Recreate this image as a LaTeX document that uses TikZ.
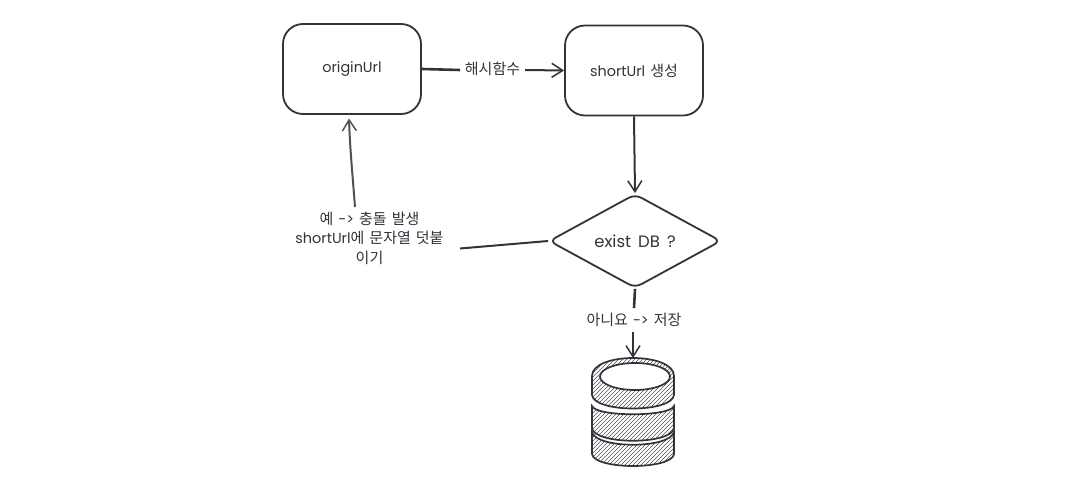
\documentclass[tikz,border=0pt]{standalone}
\usepackage{fontspec}
\setmainfont[WordSpace=1.5]{Noto Sans CJK KR}
\newfontfamily\latn[WordSpace=1.6]{Poppins}
\usetikzlibrary{arrows.meta,shapes.geometric}
\definecolor{ink}{HTML}{30343B}
\tikzset{
  flowbox/.style={draw=ink,line width=1.8pt,rounded corners=20pt,minimum width=138pt,minimum height=90pt,inner sep=0pt,font=\fontsize{15}{18}\selectfont,text=ink},
  decision/.style={draw=ink,line width=1.8pt,diamond,rounded corners=7pt,minimum width=172pt,minimum height=92pt,inner sep=0pt,font=\fontsize{15}{18}\selectfont,text=ink},
  lab/.style={font=\fontsize{15}{19.5}\selectfont,text=ink,align=center,inner sep=0pt},
  link/.style={draw=ink,line width=2pt},
  arrow/.style={link,-{Straight Barb[length=11pt,width=14pt,line width=1.5pt]}},
  tier/.style={draw=ink,line width=1.7pt},
}
\newcommand{\lt}[1]{{\latn\fontsize{14.4}{18}\selectfont #1}}
\newcommand{\hatchfill}[1]{%
  \begin{scope}
    \clip #1;
    \foreach \k in {466,470,...,664}{
      \draw[ink,line width=0.55pt,opacity=.85] (\k,480) -- ++(130,-130);
    }
  \end{scope}
  \draw[tier] #1;
}
\begin{document}
\begin{tikzpicture}[x=1pt,y=-1pt]
\useasboundingbox (0,0) rectangle (1065,489);
\fill[white] (0,0) rectangle (1065,489);
\node[flowbox] (origin) at (352,69) {\lt{originUrl}};
\node[flowbox] (short) at (634,70.5) {\lt{shortUrl} 생성};
\node[decision] (exist) at (635,241) {{\latn\fontsize{16.5}{18}\selectfont exist DB ?}};
\node[lab,inner xsep=5pt] (hash) at (492.5,68.5) {해시함수};
\node[lab] (retry) at (369.5,238) {예 \lt{->} 충돌 발생\\\lt{shortUrl}에 문자열 덧붙\\이기};
\node[lab] (save) at (634,320) {아니요 \lt{->} 저장};
\coordinate (hashIn) at (460,70);
\coordinate (hashOut) at (525,70);
\coordinate (retryIn) at (460,248.5);
\coordinate (retryTop) at (355,207);
\coordinate (originIn) at (349,118.5);
\coordinate (saveTop) at (634,308);
\coordinate (saveBot) at (633,332);
\coordinate (db) at (633,358);
\draw[link,line width=2.6pt] (origin.east) -- (hashIn);
\draw[arrow] (hashOut) -- (short.west);
\draw[arrow] (short.south) -- (exist.north);
\draw[link] (exist.west) -- (retryIn);
\draw[arrow,draw=ink!85] (retryTop) .. controls (353,180) and (350,150) .. (originIn);
\draw[link,line width=2.6pt] (exist.south) -- (saveTop);
\draw[arrow] (saveBot) -- (db);
% database
\hatchfill{(592,432) -- (592,454) .. controls (594,470) and (672,470) .. (674,454) -- (674,432) .. controls (670,449) and (596,449) .. (592,432) -- cycle}
\hatchfill{(592,406) -- (592,428) .. controls (594,445) and (672,445) .. (674,428) -- (674,406) .. controls (670,417) and (596,417) .. (592,406) -- cycle}
\hatchfill{(592,376) -- (592,395) .. controls (594,413) and (672,413) .. (674,395) -- (674,376) .. controls (674,352) and (592,352) .. (592,376) -- cycle}
\draw[tier,fill=white] (635,376.5) ellipse [x radius=35pt,y radius=13.5pt];
\end{tikzpicture}
\end{document}
